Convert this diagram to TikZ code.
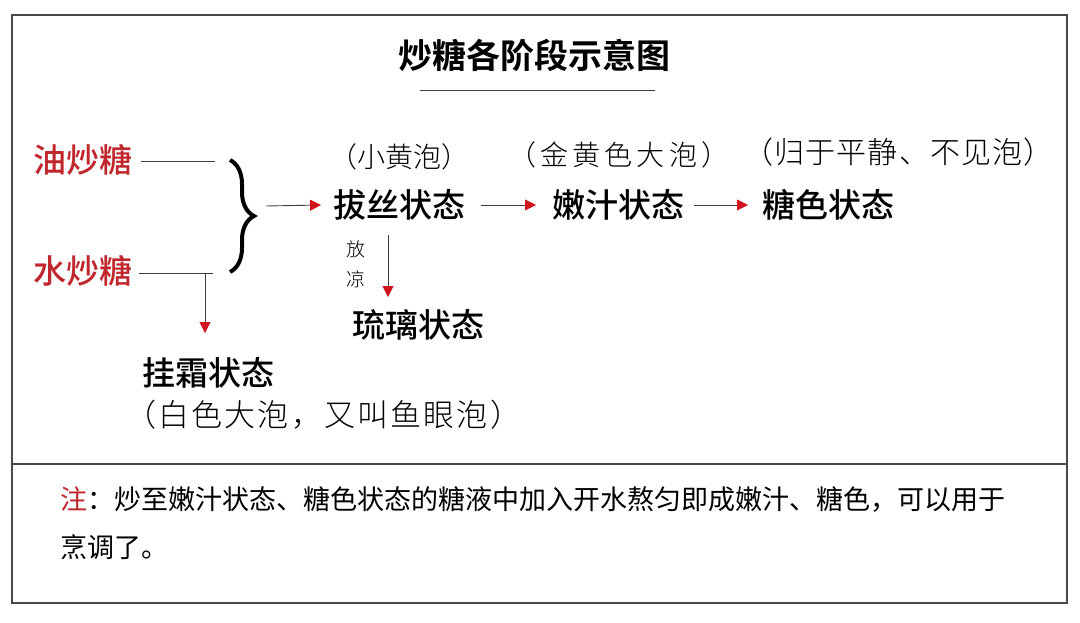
\documentclass[tikz,border=0pt]{standalone}
\usepackage{fontspec}
\setmainfont{Noto Sans CJK SC}[BoldFont={Noto Sans CJK SC Bold}]
\newfontfamily\cjklight{Noto Sans CJK SC Light}
\newfontfamily\cjkmedium{Noto Sans CJK SC Medium}
\usetikzlibrary{arrows.meta,positioning,decorations.pathreplacing}
\definecolor{sugarred}{HTML}{C0272D}
\definecolor{tipred}{HTML}{D1131D}
\definecolor{framegray}{HTML}{4A4A4A}
\tikzset{
  state/.style={anchor=west,inner sep=0pt,font=\cjkmedium\fontsize{33}{33}\selectfont},
  kind/.style={state,text=sugarred},
  remark/.style={anchor=west,inner sep=0pt,font=\cjklight\fontsize{28}{28}\selectfont},
  flow/.style={draw=black!75,line width=0.9pt,-{Triangle[length=11pt,width=11pt,color=tipred]}},
  stroke/.style={draw=black!75,line width=0.9pt}
}
\begin{document}
\begin{tikzpicture}[x=1pt,y=-1pt]
    \useasboundingbox (0,0) rectangle (1080,622);
    % Frame
    \draw[framegray,line width=1.3pt] (12,15) rectangle (1067,603);
    \draw[framegray,line width=1.3pt] (12,464) -- (1067,464);

    % Title
    \node[font=\bfseries\fontsize{34}{34}\selectfont] (title) at (534,55) {炒糖各阶段示意图};
    \draw[stroke] (420,90) -- (655,90);

    % Two ways of cooking
    \node[kind] (yc) at (33,160) {油炒糖};
    \node[kind] (sc) at (33,271) {水炒糖};
    \coordinate (ycend) at (215,161);
    \coordinate (scend) at (213,273);
    \coordinate (scdrop) at (205,273);
    \draw[stroke] ([xshift=9pt]yc.east |- ycend) -- (ycend);
    \draw[stroke] ([xshift=7pt]sc.east |- scend) -- (scend);

    % Brace
    \draw[line width=4pt,decorate,decoration={brace,amplitude=24pt,aspect=0.5}] (230,160) -- (230,272);
    \coordinate (bracetip) at (266,206);

    % States
    \node[state] (bs) at (333,205) {拔丝状态};
    \node[state] (nz) at (552,205) {嫩汁状态};
    \node[state] (ts) at (762,205) {糖色状态};
    \node[state] (ll) at (352,325) {琉璃状态};
    \node[state] (gs) at (142,373) {挂霜状态};

    % Bubbles
    \node[remark] (bsnote) at (329,157) {（小黄泡）};
    \node[remark,font=\cjklight\fontsize{28}{28}\selectfont\addfontfeatures{LetterSpace=15}] (nznote) at (508,155) {（金黄色大泡）};
    \node[remark,font=\cjklight\fontsize{30}{30}\selectfont\addfontfeatures{LetterSpace=4}] (tsnote) at (743,152) {（归于平静、不见泡）};
    \node[remark,font=\cjklight\fontsize{31}{31}\selectfont\addfontfeatures{LetterSpace=7}] (gsnote) at (125,415) {（白色大泡，又叫鱼眼泡）};

    % Arrows
    \draw[flow] (bracetip) -- ([xshift=-12pt]bs.west);
    \draw[flow] ([xshift=16pt]bs.east) -- ([xshift=-16pt]nz.west);
    \draw[flow] ([xshift=10pt]nz.east) -- ([xshift=-14pt]ts.west);
    \coordinate (cool) at (388,235);
    \draw[flow] (cool) -- (cool |- 0,297);
    \node[font=\cjklight\fontsize{19}{30}\selectfont,align=center] (coolnote) at (356,264) {放\\凉};
    \draw[flow] (scdrop) -- (scdrop |- 0,333);

    % Note
    \node[anchor=north west,inner sep=0pt,align=left,font=\fontsize{27}{48}\selectfont] (note) at (60,486)
      {\textcolor{sugarred}{注}：炒至嫩汁状态、糖色状态的糖液中加入开水熬匀即成嫩汁、糖色，可以用于\\烹调了。};
\end{tikzpicture}
\end{document}
